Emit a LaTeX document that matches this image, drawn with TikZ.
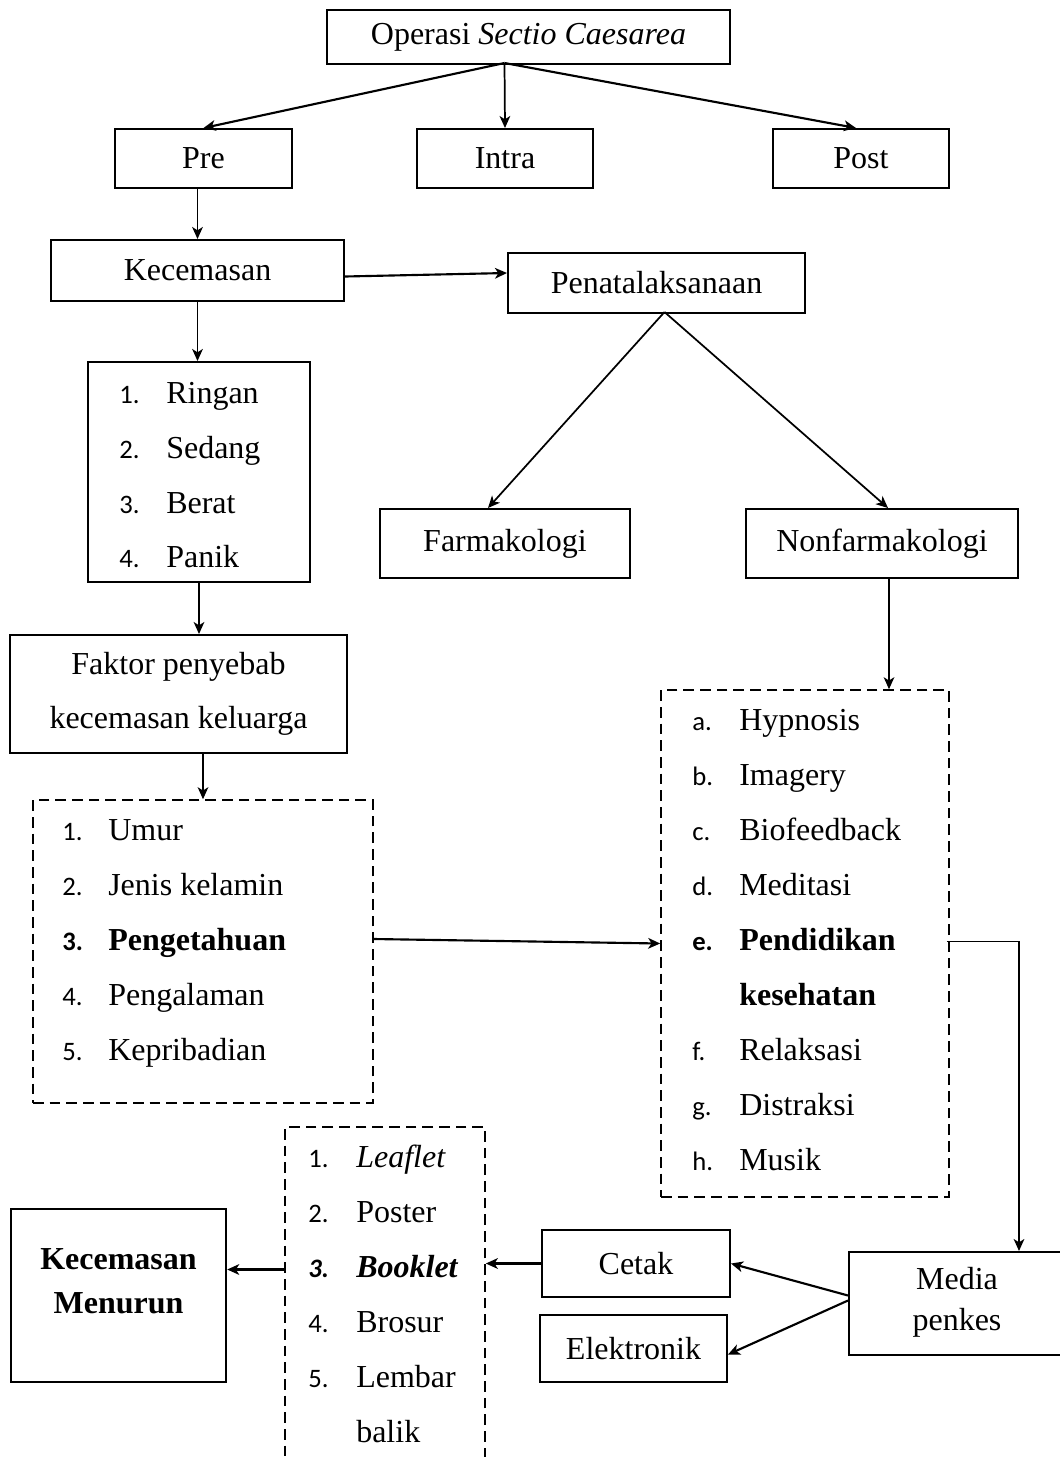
\documentclass[tikz,border=0pt]{standalone}
\usepackage{fontspec}
\setmainfont{Liberation Serif}
\newfontfamily\numfont{Carlito}
\usetikzlibrary{arrows.meta,fit,calc}
\begin{document}
\begin{tikzpicture}[x=0.75pt,y=-0.75pt,
  box/.style={draw,line width=1.5pt,inner sep=0pt},
  dbox/.style={draw,line width=1.2pt,dash pattern=on 8pt off 4.5pt,inner sep=0pt},
  conn/.style={line width=1.3pt,-{Stealth[length=9pt,width=8pt,inset=2.5pt]}},
  txt/.style={font=\fontsize{24}{28}\selectfont,inner sep=0pt},
  item/.style={font=\fontsize{24}{28}\selectfont,inner sep=0pt,anchor=base west},
  num/.style={font=\numfont\fontsize{20}{24}\selectfont,inner sep=0pt,anchor=base west}]
\useasboundingbox (0,0) rectangle (1060,1457);

% top level
\node[box,fit={(327,10)(730,64)}] (top) {};
\node[txt] (topT) at (top) {Operasi \textit{Sectio Caesarea}};
\node[box,fit={(115,129)(292,188)}] (pre) {};
\node[txt] (preT) at (pre) {Pre};
\node[box,fit={(417,129)(593,188)}] (intra) {};
\node[txt] (intraT) at (intra) {Intra};
\node[box,fit={(773,129)(949,188)}] (post) {};
\node[txt] (postT) at (post) {Post};

\coordinate (topb) at ($(top.south)+(-24,-2)$);
\draw[conn,line width=1.6pt] (topb) -- (pre.north);
\draw[conn] (topb) -- (intra.north);
\draw[conn,line width=1.6pt] (topb) -- ($(post.north)+(-5,0)$);

% Kecemasan & Penatalaksanaan
\node[box,fit={(51,240)(344,301)}] (kec) {};
\node[txt] (kecT) at (kec) {Kecemasan};
\node[box,fit={(508,253)(805,313)}] (pen) {};
\node[txt] (penT) at (pen) {Penatalaksanaan};
\draw[conn] (pre.south -| kec.north) -- (kec.north);
\draw[conn,line width=1.6pt] ($(kec.east)+(0,6)$) -- ($(pen.west)+(0,-10)$);

% level list
\node[box,fit={(88,362)(310,582)}] (lvl) {};
\node[num] (r1n) at (119,403) {1.};
\node[item] (r1) at (166,403) {Ringan};
\node[num] (r2n) at (119,458) {2.};
\node[item] (r2) at (166,458) {Sedang};
\node[num] (r3n) at (119,513) {3.};
\node[item] (r3) at (166,513) {Berat};
\node[num] (r4n) at (119,567) {4.};
\node[item] (r4) at (166,567) {Panik};
\draw[conn] (kec.south) -- (kec.south |- lvl.north);

% Farmakologi / Nonfarmakologi
\node[box,fit={(380,509)(630,578)}] (farm) {};
\node[txt] (farmT) at (farm) {Farmakologi};
\node[box,fit={(746,509)(1018,578)}] (nonf) {};
\node[txt] (nonfT) at (nonf) {Nonfarmakologi};
\coordinate (penb) at ($(pen.south)+(8,-2)$);
\draw[conn] (penb) -- ($(farm.north)+(-17,0)$);
\draw[conn] (penb) -- ($(nonf.north)+(6,0)$);

% Faktor
\node[box,fit={(10,635)(347,753)}] (fak) {};
\node[txt,align=center,font=\fontsize{24}{41}\selectfont] (fakT) at (fak) {Faktor penyebab\\kecemasan keluarga};
\draw[conn] (lvl.south) -- (lvl.south |- fak.north);

% factor list (dashed)
\node[dbox,fit={(33,800)(373,1103)}] (fl) {};
\node[num] (u1n) at (62,840) {1.};
\node[item] (u1) at (108,840) {Umur};
\node[num] (u2n) at (62,895) {2.};
\node[item] (u2) at (108,895) {Jenis kelamin};
\node[num,font=\numfont\bfseries\fontsize{20}{24}\selectfont] (u3n) at (62,950) {3.};
\node[item] (u3) at (108,950) {\textbf{Pengetahuan}};
\node[num] (u4n) at (62,1005) {4.};
\node[item] (u4) at (108,1005) {Pengalaman};
\node[num] (u5n) at (62,1060) {5.};
\node[item] (u5) at (108,1060) {Kepribadian};
\draw[conn] (fl.north |- fak.south) -- (fl.north);

% nonfarmakologi list (dashed)
\node[dbox,fit={(661,690)(949,1197)}] (nl) {};
\node[num] (h1n) at (692,730) {a.};
\node[item] (h1) at (739,730) {Hypnosis};
\node[num] (h2n) at (692,785) {b.};
\node[item] (h2) at (739,785) {Imagery};
\node[num] (h3n) at (692,840) {c.};
\node[item] (h3) at (739,840) {Biofeedback};
\node[num] (h4n) at (692,895) {d.};
\node[item] (h4) at (739,895) {Meditasi};
\node[num,font=\numfont\bfseries\fontsize{20}{24}\selectfont] (h5n) at (692,950) {e.};
\node[item] (h5) at (739,950) {\textbf{Pendidikan}};
\node[item] (h5b) at (739,1005) {\textbf{kesehatan}};
\node[num] (h6n) at (692,1060) {f.};
\node[item] (h6) at (739,1060) {Relaksasi};
\node[num] (h7n) at (692,1115) {g.};
\node[item] (h7) at (739,1115) {Distraksi};
\node[num] (h8n) at (692,1170) {h.};
\node[item] (h8) at (739,1170) {Musik};
\coordinate (nfs) at ($(nonf.south)+(7,0)$);
\draw[conn] (nfs) -- (nfs |- nl.north);
\draw[conn,line width=1.6pt] ($(fl.east)+(0,-12.5)$) -- (nl.west);

% media list (dashed)
\node[dbox,fit={(285,1127)(485,1475)}] (ml) {};
\node[num] (m1n) at (308,1167) {1.};
\node[item] (m1) at (356,1167) {\textit{Leaflet}};
\node[num] (m2n) at (308,1222) {2.};
\node[item] (m2) at (356,1222) {Poster};
\node[num,font=\numfont\bfseries\itshape\fontsize{20}{24}\selectfont] (m3n) at (308,1277) {3.};
\node[item] (m3) at (356,1277) {\textbf{\textit{Booklet}}};
\node[num] (m4n) at (308,1332) {4.};
\node[item] (m4) at (356,1332) {Brosur};
\node[num] (m5n) at (308,1387) {5.};
\node[item] (m5) at (356,1387) {Lembar};
\node[item] (m5b) at (356,1442) {balik};

% bottom boxes
\node[box,line width=1.8pt,fit={(11,1209)(226,1382)}] (km) {};
\node[txt,align=center,font=\bfseries\fontsize{24}{33}\selectfont] (kmT) at (118.5,1281) {Kecemasan\\Menurun};
\node[box,fit={(542,1230)(730,1297)}] (cetak) {};
\node[txt] (cetakT) at (cetak) {Cetak};
\node[box,fit={(540,1315)(727,1382)}] (elek) {};
\node[txt] (elekT) at (elek) {Elektronik};
\node[box,fit={(849,1252)(1063,1355)}] (media) {};
\node[txt,align=center,font=\fontsize{24}{31}\selectfont] (mediaT) at (957,1302) {Media\\penkes};

\draw[conn] ($(nl.east)+(-3,-2)$) -| ($(media.north)+(63,0)$);
\draw[conn,line width=1.6pt] ($(media.west)+(0,-8)$) -- (cetak.east);
\draw[conn,line width=1.6pt] ($(media.west)+(0,-3)$) -- ($(elek.east)+(0,6)$);
\draw[conn,line width=1.6pt] (cetak.west) -- (cetak.west -| ml.east);
\draw[conn,line width=1.6pt] ($(ml.west |- cetak.west)+(0,6)$) -- ($(km.east |- cetak.west)+(0,6)$);
\end{tikzpicture}
\end{document}
